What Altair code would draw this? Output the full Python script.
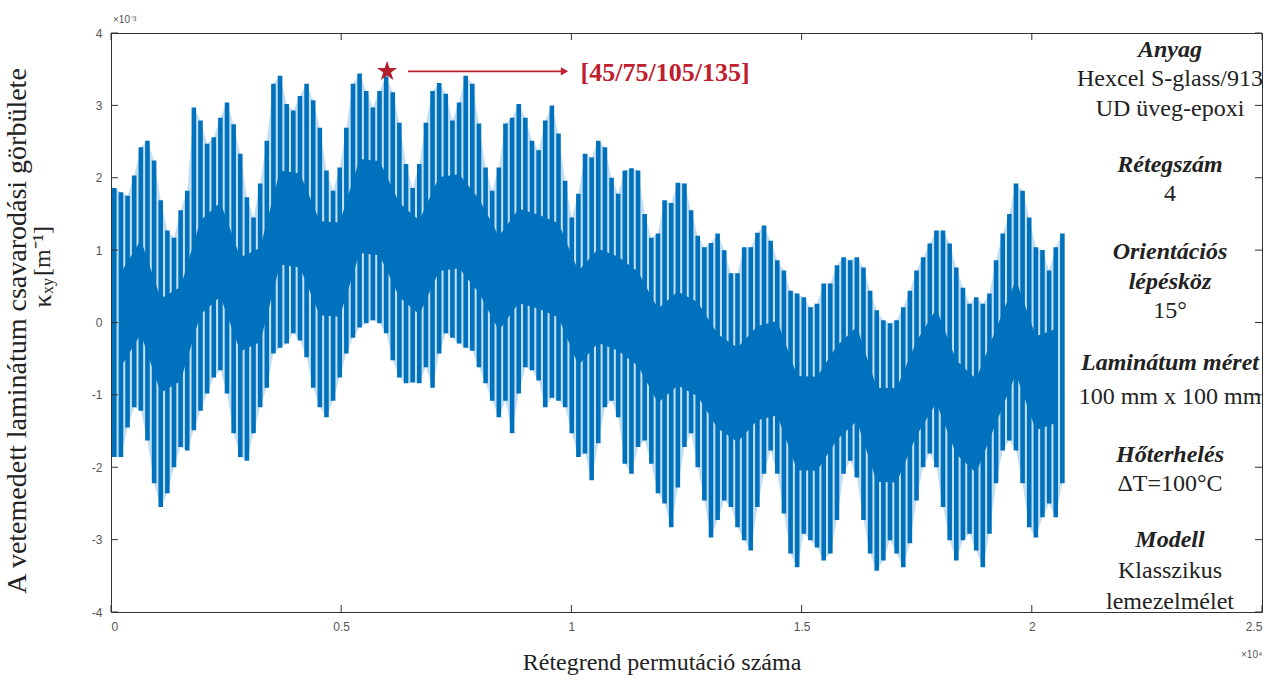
import altair as alt
import pandas as pd

# ---- data (kappa_xy in 1e-3 1/m), one spike per 144 permutations ----
spike_top = [
    1.86, 1.80, 1.75, 2.03, 2.42, 2.51, 2.24, 1.69, 1.27, 1.17, 1.55, 1.82,
    2.97, 2.79, 2.47, 2.56, 2.83, 3.04, 2.74, 2.33, 1.73, 1.45, 1.92, 2.51,
    3.30, 3.41, 3.02, 2.93, 3.13, 3.30, 3.07, 2.69, 2.10, 1.82, 2.14, 2.69,
    3.30, 3.44, 3.20, 2.97, 3.20, 3.40, 3.18, 2.76, 2.19, 1.86, 2.19, 2.76,
    3.20, 3.31, 3.16, 2.79, 3.04, 3.41, 3.30, 2.75, 2.14, 1.82, 2.14, 2.75,
    2.83, 3.02, 2.83, 2.51, 2.38, 2.79, 3.00, 2.61, 1.96, 1.45, 1.78, 2.33,
    2.28, 2.51, 2.42, 2.00, 1.78, 2.10, 2.13, 2.10, 1.50, 1.17, 1.23, 1.69,
    1.65, 1.93, 1.92, 1.55, 1.20, 1.04, 1.10, 1.23, 1.00, 0.68, 0.68, 1.04,
    1.04, 1.24, 1.34, 1.13, 0.86, 0.72, 0.44, 0.40, 0.35, 0.21, 0.26, 0.54,
    0.54, 0.79, 0.90, 0.86, 0.90, 0.76, 0.44, 0.17, 0.03, -0.01, 0.03, 0.21,
    0.44, 0.72, 0.90, 1.09, 1.27, 1.27, 1.09, 0.76, 0.48, 0.26, 0.35, 0.26,
    0.40, 0.86, 1.23, 1.50, 1.92, 1.82, 1.45, 1.04, 1.00, 0.72, 1.04, 1.23,
]
spike_bottom = [
    -1.86, -1.86, -1.45, -1.17, -1.22, -1.63, -2.22, -2.55, -2.36, -2.00, -1.72, -1.77,
    -1.49, -1.22, -0.98, -0.76, -0.66, -0.98, -1.53, -1.86, -1.91, -1.53, -1.17, -0.90,
    -0.43, -0.35, -0.29, -0.15, -0.25, -0.48, -0.90, -1.17, -1.31, -1.08, -0.76, -0.43,
    -0.21, -0.07, -0.01, 0.03, -0.01, -0.15, -0.52, -0.76, -0.84, -0.83, -0.84, -0.62,
    -0.90, -0.43, -0.15, -0.21, -0.29, -0.35, -0.39, -0.62, -0.84, -1.08, -1.31, -1.08,
    -1.53, -0.98, -0.62, -0.66, -0.80, -1.17, -1.04, -1.08, -1.17, -1.53, -1.86, -1.81,
    -2.18, -1.67, -1.17, -1.08, -1.31, -1.95, -2.09, -1.72, -1.63, -1.95, -2.36, -2.50,
    -2.83, -2.28, -1.72, -1.53, -2.00, -2.46, -2.97, -2.73, -2.46, -2.55, -2.83, -3.01,
    -3.15, -2.55, -2.09, -1.77, -2.09, -2.64, -3.19, -3.38, -2.92, -3.01, -3.11, -3.29,
    -3.19, -2.73, -2.09, -1.91, -2.14, -2.73, -3.19, -3.43, -3.29, -3.01, -3.19, -3.38,
    -3.05, -2.46, -2.00, -1.81, -2.00, -2.55, -3.01, -3.29, -3.01, -2.92, -3.15, -3.38,
    -2.92, -2.22, -1.77, -1.63, -1.77, -2.22, -2.83, -2.97, -2.69, -2.50, -2.69, -2.22,
]
# dense (solid) core of the signal, read every 3 spikes
core_hi = [
    0.69, 1.14, 0.33, 0.49, 1.41, 1.66, 0.90, 1.03, 2.10, 2.06, 1.40, 1.38,
    2.26, 2.23, 1.65, 1.41, 2.01, 2.05, 1.71, 1.19, 1.57, 1.49, 1.37, 0.71,
    1.02, 0.91, 0.70, 0.19, 0.43, 0.28, -0.16, -0.35, -0.05, 0.02, -0.74, -0.75,
    -0.32, -0.06, -0.90, -0.91, -0.26, 0.19, -0.52, -0.78, -0.09, 0.59, -0.19, -0.09,
]
core_lo = [
    -0.61, -0.16, -0.97, -0.81, 0.11, 0.36, -0.40, -0.27, 0.80, 0.76, 0.10, 0.08,
    0.96, 0.93, 0.35, 0.11, 0.71, 0.75, 0.41, -0.11, 0.27, 0.19, 0.07, -0.59,
    -0.28, -0.39, -0.60, -1.11, -0.87, -1.02, -1.46, -1.65, -1.35, -1.28, -2.04, -2.05,
    -1.62, -1.36, -2.20, -2.21, -1.56, -1.11, -1.82, -2.08, -1.39, -0.71, -1.49, -1.39,
]
group_size = 144
core_step = 3

x_ticks = [0, 5000, 10000, 15000, 20000, 25000]
y_ticks = [-4, -3, -2, -1, 0, 1, 2, 3, 4]

best_perm = 5997          # [45/75/105/135]
best_value = 3.47
best_label = "[45/75/105/135]"
arrow_start = 6450
arrow_end = 9850
label_x = 10200

panel_lines = [
    ("Anyag", 50, True), ("Hexcel S-glass/913", 79, False), ("UD üveg-epoxi", 109, False),
    ("Rétegszám", 165, True), ("4", 194, False),
    ("Orientációs", 252, True), ("lépésköz", 282, True), ("15°", 311, False),
    ("Laminátum méret", 363, True), ("100 mm x 100 mm", 397, False),
    ("Hőterhelés", 455, True), ("ΔT=100°C", 484, False),
    ("Modell", 540, True), ("Klasszikus", 571, False), ("lemezelmélet", 602, False),
]

W, H = 1151, 579
BLUE = "#0072BD"
LIGHT = "#7db7e3"
RED = "#C0202D"
SERIF = "Liberation Serif"

xs = alt.Scale(domain=[0, 25000], nice=False, zero=False)
ys = alt.Scale(domain=[-4, 4], nice=False, zero=False)

spikes = pd.DataFrame({
    "x": [i * group_size + group_size / 2 for i in range(len(spike_top))],
    "top": spike_top, "bottom": spike_bottom,
})
core = pd.DataFrame({
    "x": [(core_step * g + 1) * group_size + group_size / 2 for g in range(len(core_hi))],
    "hi": core_hi, "lo": core_lo,
})

base_x_axis = alt.Axis(values=x_ticks, labelExpr="format(datum.value/10000, '~g')",
                       domain=False, ticks=False, grid=False, labelFont="Liberation Sans",
                       labelFontSize=12, labelColor="#555", labelPadding=9, title=None)
base_y_axis = alt.Axis(values=y_ticks, labelExpr="'' + datum.value",
                       domain=False, ticks=False, grid=False, labelFont="Liberation Sans",
                       labelFontSize=12, labelColor="#555", labelPadding=9, title=None)

# faint fill between neighbouring spikes (anti-aliased density of the real trace)
halo_layer = alt.Chart(spikes).mark_area(color=LIGHT, opacity=0.45, interpolate="linear").encode(
    x=alt.X("x:Q", scale=xs, axis=base_x_axis),
    y=alt.Y("bottom:Q", scale=ys, axis=base_y_axis),
    y2="top:Q",
)
core_layer = alt.Chart(core).mark_area(color=BLUE, opacity=1, interpolate="linear").encode(
    x=alt.X("x:Q", scale=xs),
    y=alt.Y("lo:Q", scale=ys),
    y2="hi:Q",
)
spike_layer = alt.Chart(spikes).mark_rule(color=BLUE, strokeWidth=4.6).encode(
    x=alt.X("x:Q", scale=xs),
    y=alt.Y("bottom:Q", scale=ys),
    y2="top:Q",
)

xt = pd.DataFrame({"v": x_ticks})
yt = pd.DataFrame({"v": y_ticks})
tick_style = dict(color="#333", strokeWidth=1)
ticks_bottom = alt.Chart(xt).mark_rule(**tick_style).encode(
    x=alt.X("v:Q", scale=xs), y=alt.value(H), y2=alt.value(H - 7))
ticks_top = alt.Chart(xt).mark_rule(**tick_style).encode(
    x=alt.X("v:Q", scale=xs), y=alt.value(0), y2=alt.value(7))
ticks_left = alt.Chart(yt).mark_rule(**tick_style).encode(
    y=alt.Y("v:Q", scale=ys), x=alt.value(0), x2=alt.value(7))
ticks_right = alt.Chart(yt).mark_rule(**tick_style).encode(
    y=alt.Y("v:Q", scale=ys), x=alt.value(W), x2=alt.value(W - 7))

best = pd.DataFrame({"x": [best_perm], "y": [best_value], "x2": [arrow_start],
                     "x3": [arrow_end], "lx": [label_x], "t": [best_label]})
star_path = ("M0,-1L0.2245,-0.309L0.951,-0.309L0.3633,0.118L0.5878,0.809L0,0.382"
             "L-0.5878,0.809L-0.3633,0.118L-0.951,-0.309L-0.2245,-0.309Z")
star = alt.Chart(best).mark_point(shape=star_path, filled=True, color="#B0202E",
                                  size=460, opacity=1).encode(
    x=alt.X("x:Q", scale=xs), y=alt.Y("y:Q", scale=ys))
arrow_line = alt.Chart(best).mark_rule(color=RED, strokeWidth=1.8).encode(
    x=alt.X("x2:Q", scale=xs), x2="x3:Q", y=alt.Y("y:Q", scale=ys))
arrow_head = alt.Chart(best).mark_point(shape="triangle-right", filled=True, color=RED,
                                        size=70, opacity=1).encode(
    x=alt.X("x3:Q", scale=xs), y=alt.Y("y:Q", scale=ys))
best_text = alt.Chart(best).mark_text(font=SERIF, fontSize=26, fontWeight="bold", color=RED,
                                      align="left", baseline="middle", dy=2).encode(
    x=alt.X("lx:Q", scale=xs), y=alt.Y("y:Q", scale=ys), text="t:N")

panel = pd.DataFrame(panel_lines, columns=["t", "ypx", "head"])
panel["yrel"] = panel["ypx"] - 33
head_layer = alt.Chart(panel[panel["head"]]).mark_text(
    font=SERIF, fontSize=24, fontWeight="bold", fontStyle="italic", color="#222",
    align="center", baseline="middle").encode(
    x=alt.value(1059), y=alt.Y("yrel:Q", scale=None), text="t:N")
body_layer = alt.Chart(panel[~panel["head"]]).mark_text(
    font=SERIF, fontSize=24, color="#222", align="center", baseline="middle").encode(
    x=alt.value(1059), y=alt.Y("yrel:Q", scale=None), text="t:N")

def label(txt, x, y, size, angle=0, color="#222", font=SERIF, align="center"):
    return alt.Chart(pd.DataFrame({"t": [txt]})).mark_text(
        font=font, fontSize=size, color=color, angle=angle, align=align,
        baseline="middle").encode(x=alt.value(x), y=alt.value(y), text="t:N")

x_title = label("Rétegrend permutáció száma", 551, 630, 24)
y_title1 = label("A vetemedett laminátum csavarodási görbülete", -93, 298, 28, angle=270)
y_kappa = label("κ", -68, 268, 26, angle=270)
y_sub = label("xy", -63, 253, 16, angle=270)
y_unit = label("[m⁻¹]", -68, 218, 24, angle=270)
exp_y = label("×10⁻³", 2, -13, 10, color="#555", font="Liberation Sans", align="left")
exp_x = label("×10⁴", 1130, 622, 10, color="#555", font="Liberation Sans", align="left")

chart = alt.layer(
    halo_layer, core_layer, spike_layer, ticks_bottom, ticks_top, ticks_left, ticks_right,
    arrow_line, arrow_head, star, best_text, head_layer, body_layer,
    x_title, y_title1, y_kappa, y_sub, y_unit, exp_y, exp_x,
).properties(
    width=W, height=H,
    autosize=alt.AutoSizeParams(type="none"),
    padding={"left": 111, "top": 33, "right": 16, "bottom": 68},
    background="white",
).configure_view(stroke="#333", strokeWidth=1)

chart.save("out.html", embed_options={"renderer": "svg", "actions": False})
